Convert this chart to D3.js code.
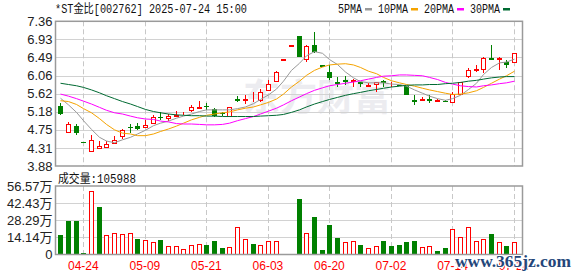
<!DOCTYPE html>
<html><head><meta charset="utf-8">
<script src="https://cdn.jsdelivr.net/npm/d3@7"></script>
<style>body{margin:0;background:#fff}svg{display:block}</style>
</head><body><svg id="c" width="578" height="276"></svg>
<script>
const dates = ["2025-04-21","2025-04-22","2025-04-23","2025-04-24","2025-04-25","2025-04-28","2025-04-29","2025-04-30","2025-05-06","2025-05-07",
"2025-05-08","2025-05-09","2025-05-12","2025-05-13","2025-05-14","2025-05-15","2025-05-16","2025-05-19","2025-05-20","2025-05-21",
"2025-05-22","2025-05-23","2025-05-26","2025-05-27","2025-05-28","2025-05-29","2025-05-30","2025-06-03","2025-06-11","2025-06-12",
"2025-06-13","2025-06-16","2025-06-17","2025-06-18","2025-06-19","2025-06-20","2025-06-23","2025-06-24","2025-06-25","2025-06-26",
"2025-06-27","2025-06-30","2025-07-01","2025-07-02","2025-07-03","2025-07-04","2025-07-07","2025-07-08","2025-07-09","2025-07-10",
"2025-07-11","2025-07-14","2025-07-15","2025-07-16","2025-07-17","2025-07-18","2025-07-21","2025-07-22","2025-07-23","2025-07-24"];
const opens  = [5.33,4.67,4.85,4.45,4.22,4.28,4.31,4.41,4.57,4.82, 4.83,4.79,4.89,5.07,5.01,5.10,5.10,5.21,5.29,5.32, 5.26,5.15,5.07,5.50,5.48,5.44,5.45,5.69,5.91,6.46, 6.79,7.01,6.43,6.79,6.31,6.15,5.91,5.95,5.90,5.90, 5.82,5.82,5.93,5.81,5.83,5.81,5.47,5.44,5.50,5.43, 5.44,5.39,5.59,6.01,6.21,6.19,6.47,6.42,6.39,6.35];
const highs  = [5.39,4.95,4.90,4.45,4.62,4.47,4.49,4.61,4.78,4.90, 4.92,4.99,5.11,5.19,5.14,5.21,5.19,5.35,5.45,5.39, 5.28,5.18,5.31,5.56,5.59,5.66,5.74,5.95,6.17,6.46, 6.79,7.01,6.78,7.10,6.31,6.31,6.03,6.05,5.97,5.91, 5.87,5.91,5.95,5.91,5.84,5.81,5.58,5.55,5.59,5.48, 5.47,5.66,5.91,6.23,6.31,6.51,6.79,6.51,6.43,6.59];
const lows   = [5.11,4.67,4.63,4.44,4.22,4.28,4.31,4.41,4.54,4.67, 4.75,4.79,4.89,4.99,4.97,5.07,5.10,5.19,5.26,5.23, 5.07,5.09,5.07,5.42,5.37,5.42,5.42,5.69,5.91,6.46, 6.79,6.49,6.39,6.59,6.30,5.95,5.77,5.83,5.79,5.79, 5.82,5.66,5.77,5.78,5.80,5.58,5.35,5.44,5.39,5.43, 5.42,5.39,5.59,5.99,6.14,6.11,6.43,6.19,6.23,6.35];
const closes = [5.14,4.89,4.67,4.44,4.50,4.35,4.42,4.51,4.75,4.80, 4.78,4.87,5.05,5.03,5.09,5.11,5.14,5.30,5.31,5.30, 5.09,5.13,5.31,5.48,5.50,5.46,5.66,5.86,6.15,6.46, 6.79,6.50,6.77,6.63,6.30,5.99,5.89,5.89,5.94,5.85, 5.83,5.89,5.87,5.82,5.81,5.59,5.46,5.48,5.48,5.47, 5.43,5.62,5.90,6.20,6.22,6.47,6.44,6.47,6.30,6.59];
const volumes = [16.2,27.7,27.7,1.6,52.5,39.3,16.2,17.9,17.0,17.9, 12.9,12.1,10.5,12.1,7.2,7.2,4.7,7.7,8.8,8.0, 11.3,5.5,6.3,22.8,12.9,8.8,8.0,11.3,11.3,0.5, 0.5,45.9,17.9,31.0,3.9,24.5,13.8,10.5,11.3,8.0, 5.5,7.2,11.3,7.2,8.0,10.5,11.3,6.3,7.2,3.0, 5.5,20.9,14.6,22.8,11.3,12.9,17.0,10.5,7.2,10.6];
const volUp = [0,0,0,0,1,0,1,1,1,1, 0,1,1,0,1,1,1,1,1,0, 0,0,1,1,1,0,1,1,1,1, 1,0,1,0,0,0,0,1,1,0, 1,1,0,0,0,0,0,1,1,0, 0,1,1,1,1,1,0,1,0,1];
const ma5  = [5.51,5.35,5.17,4.97,4.76,4.57,4.48,4.44,4.51,4.57, 4.65,4.74,4.85,4.91,4.96,5.03,5.08,5.13,5.19,5.23, 5.23,5.23,5.23,5.26,5.30,5.38,5.48,5.59,5.73,5.92, 6.18,6.35,6.53,6.63,6.59,6.44,6.32,6.14,6.00,5.91, 5.88,5.88,5.88,5.85,5.84,5.80,5.71,5.63,5.56,5.50, 5.46,5.50,5.58,5.72,5.87,6.08,6.25,6.36,6.38,6.45];
const ma10 = [5.45,5.43,5.36,5.26,5.16,5.02,4.88,4.75,4.67,4.65, 4.61,4.61,4.65,4.71,4.77,4.84,4.91,4.99,5.05,5.10, 5.13,5.16,5.18,5.23,5.27,5.30,5.35,5.41,5.49,5.61, 5.78,5.92,6.06,6.18,6.26,6.31,6.33,6.34,6.31,6.25, 6.16,6.10,6.01,5.93,5.88,5.84,5.80,5.75,5.71,5.67, 5.63,5.60,5.61,5.64,5.69,5.77,5.87,5.97,6.05,6.16];
const ma20 = [5.61,5.56,5.50,5.44,5.37,5.29,5.22,5.16,5.13,5.08, 5.04,5.01,5.00,4.96,4.94,4.90,4.89,4.89,4.88,4.87, 4.87,4.88,4.91,4.97,5.02,5.07,5.13,5.20,5.27,5.35, 5.45,5.54,5.62,5.70,5.76,5.81,5.84,5.87,5.90,5.93, 5.97,6.01,6.04,6.05,6.07,6.07,6.06,6.05,6.01,5.96, 5.89,5.85,5.81,5.79,5.78,5.81,5.83,5.86,5.88,5.92];
const ma30 = [5.87,5.84,5.81,5.77,5.71,5.64,5.57,5.50,5.43,5.37, 5.31,5.24,5.19,5.16,5.13,5.11,5.10,5.09,5.09,5.08, 5.08,5.07,5.07,5.07,5.07,5.07,5.08,5.09,5.10,5.12, 5.17,5.23,5.30,5.37,5.43,5.48,5.53,5.58,5.62,5.65, 5.69,5.72,5.75,5.78,5.80,5.82,5.83,5.83,5.84,5.84, 5.86,5.87,5.89,5.92,5.94,5.97,6.00,6.02,6.03,6.03];
const priceTicks = [3.88,4.315,4.75,5.185,5.62,6.055,6.49,6.925,7.36];
const priceTickLabels = ["3.88","4.31","4.75","5.18","5.62","6.06","6.49","6.93","7.36"];
const volTicks = [0,14.14,28.29,42.43,56.57];
const volTickLabels = ["0","14.14万","28.29万","42.43万","56.57万"];
const dateTickKeys = ["2025-04-24","2025-05-09","2025-05-21","2025-06-03","2025-06-20","2025-07-02","2025-07-14","2025-07-24"];
const title = "*ST金比[002762] 2025-07-24 15:00";
const volTitle = "成交量:105988";
const legendNames = ["5PMA","10PMA","20PMA","30PMA"];
const legendColors = ["#999999","#f5a300","#ff00ff","#006a32"];

const RED="#ff0000", GREEN="#008000";
const svg = d3.select("#c");
const L=55.5, R=522.5, PT=21.3, PB=166, VT=186, VB=254.5;
const x = d3.scaleBand().domain(dates).range([56.45,517.85]);
const cx = d => Math.round(x(d)+x.bandwidth()/2);
const y = d3.scaleLinear().domain([3.88,7.36]).range([PB,PT]);
const yv = d3.scaleLinear().domain([0,56.57]).range([VB,VT]);
const FONT = "'Liberation Sans',Arial,'Noto Sans CJK SC',sans-serif";

// watermark (faint)
svg.append("text").attr("x",243).attr("y",111).attr("font-family","'Noto Sans CJK SC',sans-serif")
  .attr("font-size",37).attr("font-weight","bold").attr("fill","#ececf0").text("东方财富");

// gridlines price
const gP = svg.append("g");
gP.selectAll("line.h").data(priceTicks.slice(1,-1)).join("line")
  .attr("x1",L).attr("x2",R).attr("y1",d=>Math.round(y(d))+0.5).attr("y2",d=>Math.round(y(d))+0.5)
  .attr("stroke","#d2d2d2");
const gV = svg.append("g");
gV.selectAll("line.h").data(volTicks.slice(1,-1)).join("line")
  .attr("x1",L).attr("x2",R).attr("y1",d=>Math.round(yv(d))+0.5).attr("y2",d=>Math.round(yv(d))+0.5)
  .attr("stroke","#d2d2d2");
[[PT,PB],[VT,VB]].forEach(([t,b])=>{
  svg.append("g").selectAll("line").data(dateTickKeys).join("line")
    .attr("x1",d=>cx(d)+0.5).attr("x2",d=>cx(d)+0.5).attr("y1",t).attr("y2",b)
    .attr("stroke","#c8c8c8").attr("stroke-dasharray","5,3");
});

// candles
const idx = d3.range(dates.length);
const cg = svg.append("g").attr("shape-rendering","crispEdges");
idx.forEach(i=>{
  const up = closes[i] >= opens[i];
  const c = up?RED:GREEN;
  const xc = cx(dates[i]);
  cg.append("line").attr("x1",xc+0.5).attr("x2",xc+0.5).attr("y1",y(highs[i])).attr("y2",y(lows[i])).attr("stroke",c);
  let top = Math.round(y(Math.max(opens[i],closes[i]))), bot = Math.round(y(Math.min(opens[i],closes[i])));
  if (bot-top < 1) {
    cg.append("rect").attr("x",xc-2).attr("y",top).attr("width",5).attr("height",1.5).attr("fill",c);
  } else if (up) {
    cg.append("rect").attr("x",xc-1.5).attr("y",top+0.5).attr("width",4).attr("height",bot-top-1).attr("fill","#fff").attr("stroke",c);
  } else {
    cg.append("rect").attr("x",xc-2).attr("y",top).attr("width",5).attr("height",bot-top).attr("fill",c);
  }
});

// MA lines
const mas = [ma5,ma10,ma20,ma30];
mas.forEach((m,k)=>{
  svg.append("path").datum(idx).attr("fill","none").attr("stroke",legendColors[k]).attr("stroke-width",1)
    .attr("d", d3.line().x(i=>cx(dates[i])+0.5).y(i=>y(m[i]))(idx));
});

// volume bars
const vg = svg.append("g").attr("shape-rendering","crispEdges");
idx.forEach(i=>{
  const xc = cx(dates[i]);
  const top = Math.round(yv(volumes[i]));
  if (volUp[i]) {
    vg.append("rect").attr("x",xc-1.5).attr("y",Math.min(top,VB-1)+0.5).attr("width",4).attr("height",Math.max(0,VB-top-1)).attr("fill","#fff").attr("stroke",RED);
  } else {
    vg.append("rect").attr("x",xc-2).attr("y",top).attr("width",5).attr("height",VB-top).attr("fill",GREEN);
  }
});

// frames
svg.append("rect").attr("x",L).attr("y",PT).attr("width",R-L).attr("height",PB-PT).attr("fill","none").attr("stroke","#9a9a9a").attr("stroke-width",1.5);
svg.append("rect").attr("x",L).attr("y",VT).attr("width",R-L).attr("height",VB-VT).attr("fill","none").attr("stroke","#9a9a9a").attr("stroke-width",1.5);

// axes
const ay = svg.append("g").attr("transform",`translate(${L},0)`)
  .call(d3.axisLeft(y).tickValues(priceTicks).tickFormat((d,i)=>priceTickLabels[i]).tickSize(0).tickPadding(3));
const av = svg.append("g").attr("transform",`translate(${L},0)`)
  .call(d3.axisLeft(yv).tickValues(volTicks).tickFormat((d,i)=>volTickLabels[i]).tickSize(0).tickPadding(3));
const ax = svg.append("g").attr("transform",`translate(0,261.5)`)
  .call(d3.axisBottom(x).tickValues(dateTickKeys).tickFormat(d=>d.slice(5)).tickSize(0).tickPadding(0));
[ay,av].forEach(g=>{g.select(".domain").remove(); g.selectAll("text").attr("font-family",FONT).attr("font-size",13).attr("fill","#222");});
ax.select(".domain").remove();
ax.selectAll("text").attr("font-family",FONT).attr("font-size",12).attr("fill",RED);

// title & legend
const MONO = "'Liberation Mono','Noto Sans CJK SC',monospace";
svg.append("text").attr("x",55).attr("y",13).attr("font-family",MONO).attr("font-size",12).attr("fill","#111")
  .attr("textLength",192).attr("lengthAdjust","spacingAndGlyphs").text(title);
let lx = 338;
legendNames.forEach((n,k)=>{
  const w = n.length*6;
  svg.append("text").attr("x",lx).attr("y",13).attr("font-family",MONO).attr("font-size",12).attr("fill","#111")
    .attr("textLength",w).attr("lengthAdjust","spacingAndGlyphs").text(n);
  svg.append("rect").attr("x",lx+w+3).attr("y",8).attr("width",7).attr("height",2.5).attr("fill",legendColors[k]);
  lx += w+3+7+6;
});
svg.append("text").attr("x",58).attr("y",182.5).attr("font-family",MONO).attr("font-size",12).attr("fill","#111")
  .attr("textLength",78).attr("lengthAdjust","spacingAndGlyphs").text(volTitle);

// site watermark
svg.append("text").attr("x",455).attr("y",267).attr("font-family","'Liberation Serif',serif").attr("font-size",17)
  .attr("font-weight","bold").attr("fill","#24467a").attr("stroke","#fff").attr("stroke-width",2).attr("paint-order","stroke")
  .attr("textLength",116).attr("lengthAdjust","spacingAndGlyphs").text("www.365jz.com");
</script></body></html>
